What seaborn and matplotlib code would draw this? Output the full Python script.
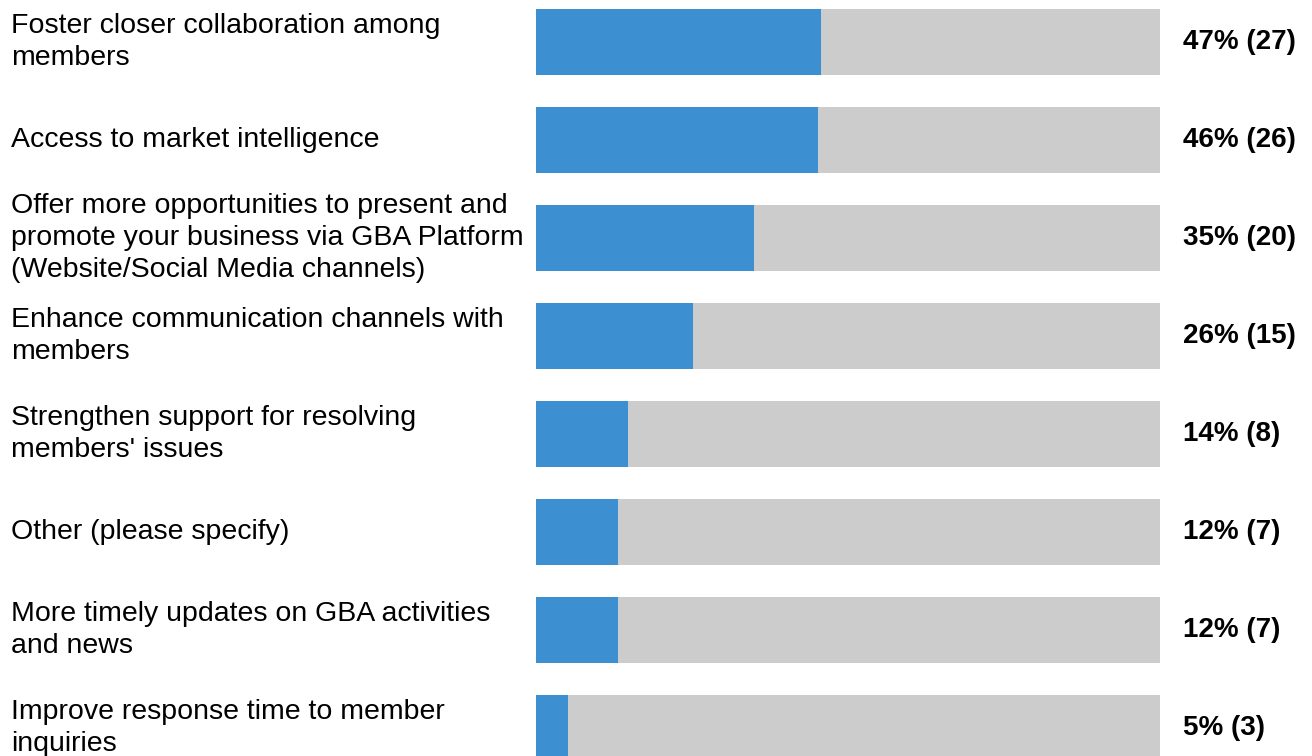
import matplotlib
matplotlib.use("Agg")
import matplotlib.pyplot as plt
import matplotlib.transforms as mtransforms
import pandas as pd
import seaborn as sns

# ---------- DATA ----------
answers = [
    "Foster closer collaboration among\nmembers",
    "Access to market intelligence",
    "Offer more opportunities to present and\npromote your business via GBA Platform\n(Website/Social Media channels)",
    "Enhance communication channels with\nmembers",
    "Strengthen support for resolving\nmembers' issues",
    "Other (please specify)",
    "More timely updates on GBA activities\nand news",
    "Improve response time to member\ninquiries",
]
bar_share = [45.7, 45.2, 35.0, 25.2, 14.7, 13.1, 13.1, 5.1]   # bar length
pct_label = [47, 46, 35, 26, 14, 12, 12, 5]
counts = [27, 26, 20, 15, 8, 7, 7, 3]

BLUE = "#3C8FD0"
GREY = "#CCCCCC"

# ---------- PLOT ----------
sns.set_style("white")
plt.rcParams["font.family"] = ["Liberation Sans", "DejaVu Sans"]

df = pd.DataFrame({"answer": answers, "share": bar_share, "full": [100] * len(answers)})

fig = plt.figure(figsize=(13.12, 7.56), dpi=100)
ax = fig.add_axes([536 / 1312, 0, 624 / 1312, 1])

sns.barplot(data=df, y="answer", x="full", color=GREY, width=0.674,
            saturation=1, linewidth=0, ax=ax, orient="h")
sns.barplot(data=df, y="answer", x="share", color=BLUE, width=0.674,
            saturation=1, linewidth=0, ax=ax, orient="h")

ax.set_xlim(0, 100)
ax.set_ylim(7.289, -0.43)
ax.set_xlabel("")
ax.set_ylabel("")
ax.set_xticks([])
ax.set_yticks([])
sns.despine(ax=ax, left=True, bottom=True)

# left-hand labels and right-hand values
trans = mtransforms.blended_transform_factory(fig.transFigure, ax.transData)
for i, (txt, p, n) in enumerate(zip(answers, pct_label, counts)):
    ax.text(11 / 1312, i, txt, transform=trans, ha="left", va="center",
            fontsize=20.5, color="black", linespacing=1.3)
    ax.text(1183 / 1312, i, f"{p}% ({n})", transform=trans, ha="left",
            va="center", fontsize=20, fontweight="bold", color="black")

fig.savefig("out.png", dpi=100)
